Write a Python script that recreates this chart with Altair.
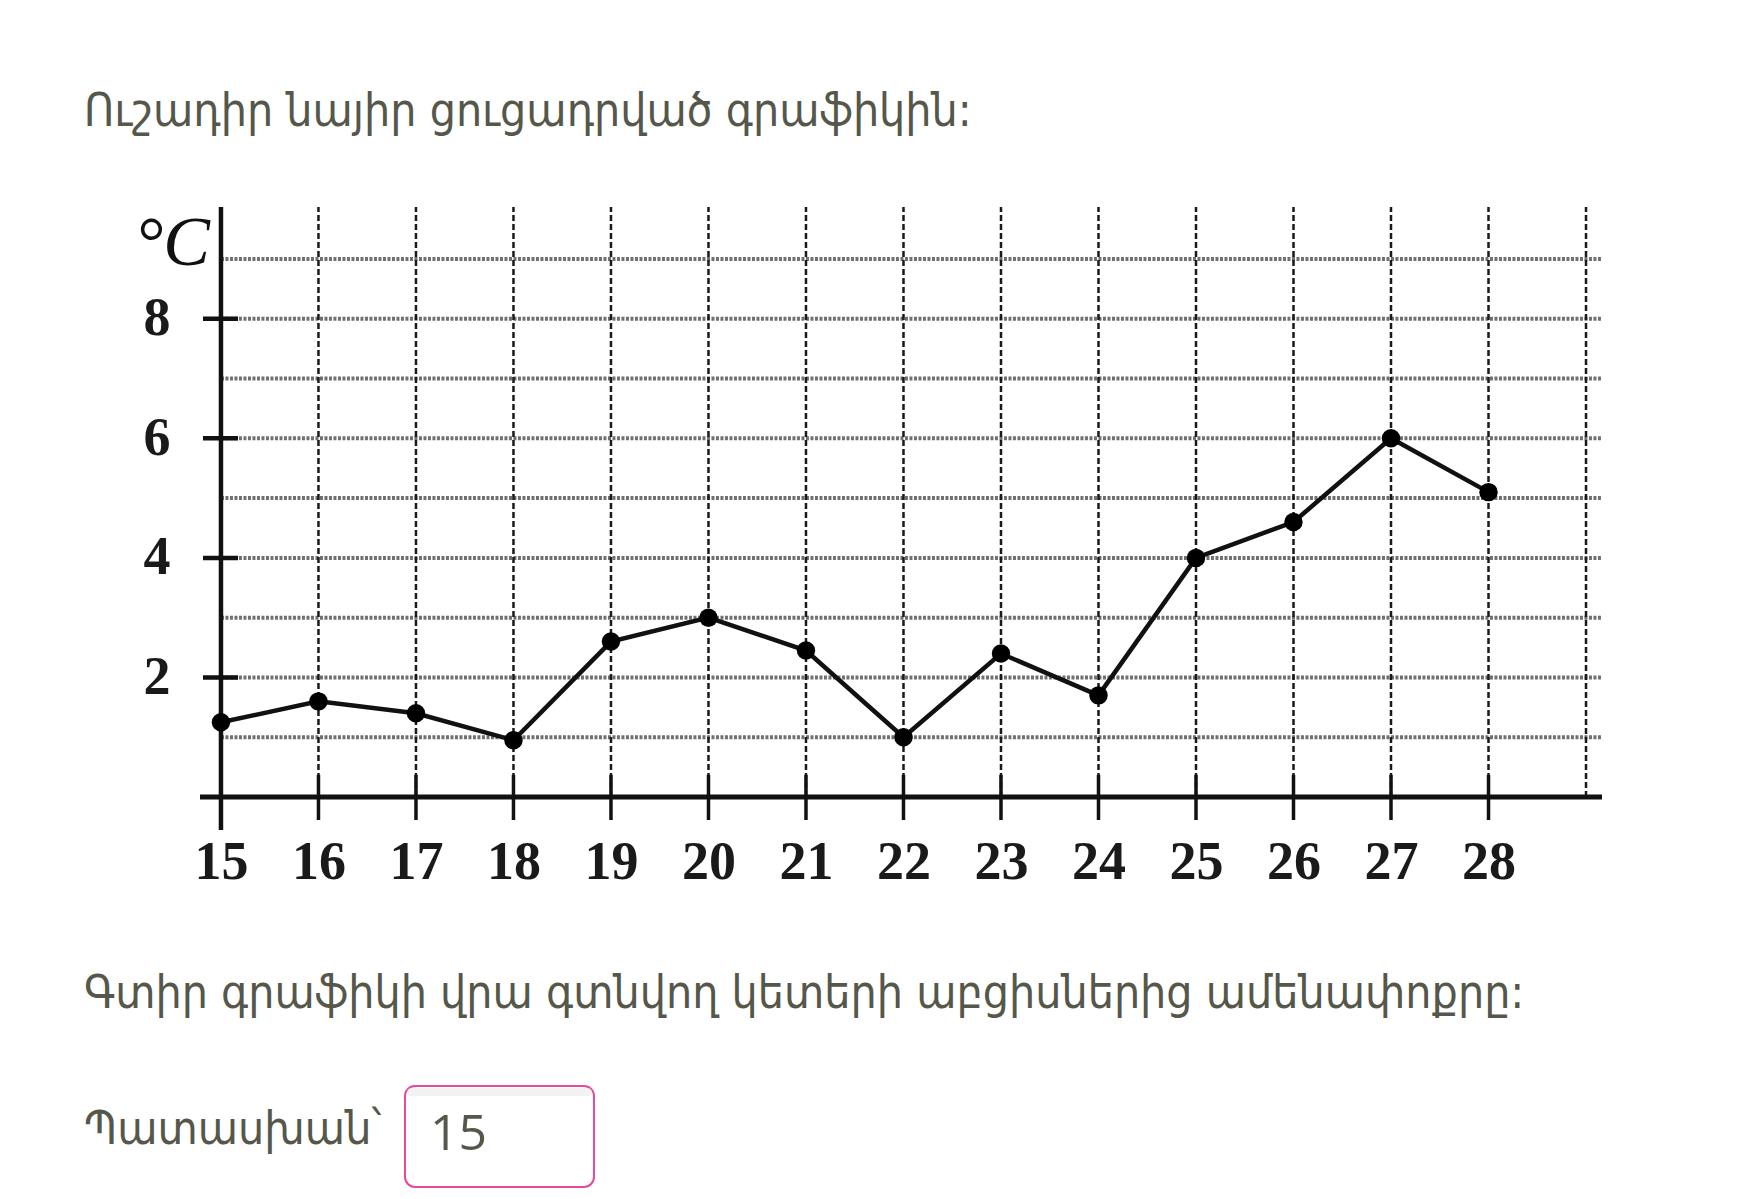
import altair as alt
import pandas as pd

# Daily temperatures, days 15..28
days = list(range(15, 29))
temps = [1.25, 1.6, 1.4, 0.95, 2.6, 3.0, 2.45, 1.0, 2.4, 1.7, 4.0, 4.6, 6.0, 5.1]

# Grid / tick positions
x_grid = list(range(16, 30))
x_ticks = list(range(16, 29))
x_labels = list(range(15, 29))
y_grid = list(range(1, 10))
y_labels = [2, 4, 6, 8]

unit = "°C"
prompt = "Ուշադիր նայիր ցուցադրված գրաֆիկին:"
question = "Գտիր գրաֆիկի վրա գտնվող կետերի աբցիսներից ամենափոքրը:"
answer_label = "Պատասխան՝"
answer_value = "15"

X_MIN, X_MAX = 14.785, 29.164
Y_MIN, Y_MAX = 0, 9.87
Y_AXIS_LOW = -0.55
W, H = 1402, 590

TEXT_FONT = "DejaVu Sans Condensed, DejaVu Sans"
TEXT_COLOR = "#55574a"
TEXT_SIZE = 46
NUM_FONT = "Liberation Serif"

df = pd.DataFrame({"day": days, "temp": temps})
one = pd.DataFrame({"k": [0]})

x_scale = alt.Scale(domain=[X_MIN, X_MAX], nice=False, zero=False)
y_scale = alt.Scale(domain=[Y_MIN, Y_MAX], nice=False, zero=False)

# Vertical dashed grid
vgrid = alt.Chart(pd.DataFrame({"x": x_grid, "y0": Y_MIN, "y1": Y_MAX})).mark_rule(
    color="#1a1a1a", strokeWidth=2.5, strokeDash=[6, 3]
).encode(
    x=alt.X("x:Q", scale=x_scale),
    y=alt.Y("y0:Q", scale=y_scale), y2="y1:Q",
)

# Horizontal grey grid
hgrid = alt.Chart(pd.DataFrame({"y": y_grid, "x0": 15, "x1": X_MAX})).mark_rule(
    color="#707070", strokeWidth=4, strokeDash=[3, 1.5]
).encode(
    y=alt.Y("y:Q", scale=y_scale),
    x=alt.X("x0:Q", scale=x_scale), x2="x1:Q",
)

# Axis lines
x_axis_line = alt.Chart(pd.DataFrame({"x0": [X_MIN], "x1": [X_MAX], "y": [0]})).mark_rule(
    color="#111", strokeWidth=5
).encode(x=alt.X("x0:Q", scale=x_scale), x2="x1:Q", y=alt.Y("y:Q", scale=y_scale))

y_axis_line = alt.Chart(pd.DataFrame({"x": [15], "y0": [Y_AXIS_LOW], "y1": [Y_MAX]})).mark_rule(
    color="#111", strokeWidth=4.5
).encode(x=alt.X("x:Q", scale=x_scale), y=alt.Y("y0:Q", scale=y_scale), y2="y1:Q")

# Tick marks crossing the axes
x_tick_marks = alt.Chart(pd.DataFrame({"x": x_ticks})).mark_rule(
    color="#111", strokeWidth=3.5
).encode(
    x=alt.X("x:Q", scale=x_scale), y=alt.value(H - 22), y2=alt.value(H + 23)
)
y_tick_marks = alt.Chart(pd.DataFrame({"y": y_labels})).mark_rule(
    color="#111", strokeWidth=4.5
).encode(
    y=alt.Y("y:Q", scale=y_scale), x=alt.value(3), x2=alt.value(38)
)

# Axis labels (library axes, no lines)
axes = alt.Chart(df).mark_point(opacity=0).encode(
    x=alt.X(
        "day:Q", scale=x_scale,
        axis=alt.Axis(
            values=x_labels, format="d", domain=False, ticks=False, grid=False,
            labelFont=NUM_FONT, labelFontSize=54, labelFontWeight="bold",
            labelColor="#1a1a1a", labelPadding=38, title=None,
            labelFlush=False, labelOverlap=False,
        ),
    ),
    y=alt.Y(
        "temp:Q", scale=y_scale,
        axis=alt.Axis(
            values=y_labels, format="d", domain=False, ticks=False, grid=False,
            labelFont=NUM_FONT, labelFontSize=54, labelFontWeight="bold",
            labelColor="#1a1a1a", labelPadding=30, labelFlush=False, labelOverlap=False,
            title=unit, titleAngle=0, titleFont=NUM_FONT, titleFontSize=70,
            titleFontStyle="italic", titleFontWeight="normal", titleColor="#111",
            titleX=-28, titleY=36, titleAlign="center", titleBaseline="middle",
        ),
    ),
)

line = alt.Chart(df).mark_line(color="#111", strokeWidth=4.5).encode(
    x=alt.X("day:Q", scale=x_scale), y=alt.Y("temp:Q", scale=y_scale)
)
points = alt.Chart(df).mark_circle(color="#000", size=340, opacity=1).encode(
    x=alt.X("day:Q", scale=x_scale), y=alt.Y("temp:Q", scale=y_scale)
)

# Surrounding question text
def text_layer(txt, x, y, size, font=TEXT_FONT):
    return alt.Chart(one).mark_text(
        text=txt, align="left", baseline="alphabetic", font=font,
        fontSize=size, color=TEXT_COLOR,
    ).encode(x=alt.value(x), y=alt.value(y))

prompt_t = text_layer(prompt, -116, -81, TEXT_SIZE)
question_t = text_layer(question, -116, 801, TEXT_SIZE)
answer_t = text_layer(answer_label, -116, 937, TEXT_SIZE)

# Answer input box with a faint inner shade along its top edge
box = alt.Chart(one).mark_rect(
    cornerRadius=10, stroke="#e6489a", strokeWidth=2, fill="#ffffff",
).encode(x=alt.value(205), x2=alt.value(394), y=alt.value(879), y2=alt.value(980))
box_shade = alt.Chart(one).mark_rect(
    cornerRadius=8, fill="#ececec", opacity=0.7,
).encode(x=alt.value(207), x2=alt.value(392), y=alt.value(881), y2=alt.value(889))
answer_v = text_layer(answer_value, 230, 943, 50, font="Open Sans")

chart = alt.layer(
    hgrid, vgrid, x_axis_line, y_axis_line, x_tick_marks, y_tick_marks,
    axes, line, points, prompt_t, question_t, answer_t, box, box_shade, answer_v,
).properties(
    width=W, height=H,
    padding={"left": 200, "top": 207, "right": 151, "bottom": 402},
    autosize=alt.AutoSizeParams(type="none"),
    background="white",
).configure_view(stroke=None)

chart.save("out.html", embed_options={"renderer": "svg", "actions": False})
